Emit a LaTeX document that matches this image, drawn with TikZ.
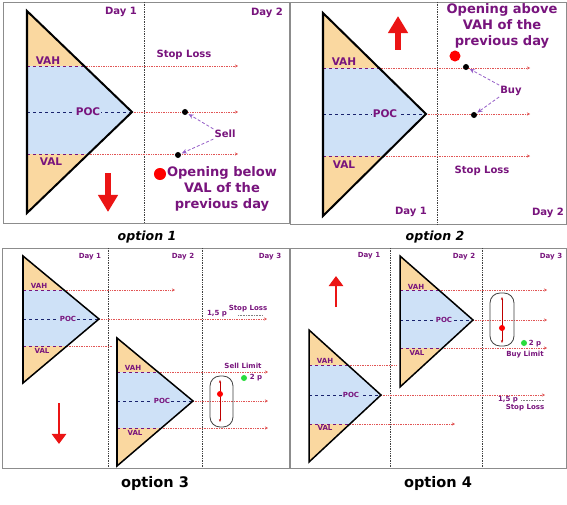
\documentclass[tikz,border=0pt]{standalone}
\usepackage{fontspec}
\setmainfont{DejaVu Sans}
\usepackage{xcolor}
\usetikzlibrary{arrows.meta,positioning}

\definecolor{vapurple}{RGB}{120,20,125}
\definecolor{tailfill}{RGB}{250,216,160}
\definecolor{corefill}{RGB}{206,225,247}
\definecolor{levelred}{RGB}{225,85,85}
\definecolor{pocblue}{RGB}{25,35,110}
\definecolor{trendred}{RGB}{235,20,20}
\definecolor{hintviolet}{RGB}{150,95,200}
\definecolor{limitgreen}{RGB}{40,220,60}

\begin{document}
\begin{tikzpicture}[x=0.035cm, y=-0.035cm,
  >=Stealth,
  panel/.style={draw=black!45, line width=0.8pt},
  daysep/.style={draw=black!75, densely dotted, line width=0.7pt},
  profile/.style={draw=black, line width=2pt, line join=miter},
  smallprofile/.style={profile, line width=1.5pt},
  tail/.style={fill=tailfill},
  core/.style={fill=corefill},
  vaedge/.style={draw=vapurple, dashed, line width=0.8pt},
  pocline/.style={draw=pocblue, dashed, line width=0.9pt},
  levelline/.style={draw=levelred, densely dotted, line width=0.7pt,
    -{Stealth[length=3pt,width=3pt]}},
  stub/.style={draw=levelred, densely dotted, line width=0.7pt},
  lbl/.style={font=\bfseries\fontsize{10.5}{12}\selectfont, text=vapurple, inner sep=1pt},
  smalllbl/.style={lbl, font=\bfseries\fontsize{7}{8}\selectfont},
  daylbl/.style={lbl, font=\bfseries\fontsize{10}{12}\selectfont},
  note/.style={font=\bfseries\fontsize{13}{16}\selectfont, text=vapurple, align=center},
  optcaption/.style={font=\bfseries\itshape\fontsize{12.5}{14}\selectfont},
  optcaptionup/.style={font=\bfseries\fontsize{14.5}{16}\selectfont},
  hitdot/.style={circle, fill=black, inner sep=0pt, minimum size=6pt},
  opendot/.style={circle, fill=red, inner sep=0pt, minimum size=12pt},
  reddot/.style={circle, fill=red, inner sep=0pt, minimum size=6pt},
  greendot/.style={circle, fill=limitgreen, inner sep=0pt, minimum size=6pt},
  pointer/.style={draw=hintviolet, densely dashed, line width=0.8pt,
    -{Stealth[length=5pt,width=4.5pt]}, shorten >=1pt},
  trend/.style={draw=trendred, line width=5pt, -{Triangle[length=17pt,width=19pt]}},
  smalltrend/.style={draw=trendred, line width=2.5pt, -{Triangle[length=10pt,width=14pt]}},
  rangebox/.style={draw=black!75, rounded corners=10pt, line width=0.8pt},
  rangeline/.style={draw=red!75!black, line width=0.8pt,
    {Stealth[length=3pt]}-{Stealth[length=3pt]}},
  pipline/.style={draw=black!50, densely dotted, line width=0.6pt},
]
\fill[white] (0,0) rectangle (567,505);
\useasboundingbox (0,0) rectangle (567,505);

% ========= Option 1: opening below VAL =========
\draw[panel] (3,2) rectangle (289,223);
\draw[daysep] (144,2) -- (144,223);
\begin{scope}
  \clip (27,11) -- (132,112) -- (27,213) -- cycle;
  \fill[tail] (27,11) rectangle (132,213);
  \fill[core] (27,66) rectangle (132,154);
\end{scope}
\draw[vaedge] (27,66) -- (84,66);
\draw[vaedge] (27,154) -- (88,154);
\draw[pocline] (27,112) -- (132,112);
\draw[levelline] (84,66) -- (238,66);
\draw[levelline] (132,112) -- (238,112);
\draw[levelline] (88,154) -- (238,154);
\draw[profile] (27,11) -- (132,112) -- (27,213) -- cycle;
\node[lbl] at (48,61) (p1vah) {VAH};
\node[lbl, fill=corefill] at (88,112) (p1poc) {POC};
\node[lbl] at (51,162) (p1val) {VAL};
\node[daylbl] at (121,12) (p1day1) {Day 1};
\node[daylbl] at (267,13) (p1day2) {Day 2};
\node[daylbl] at (184,55) (p1stop) {Stop Loss};
\node[hitdot] at (185,112) (p1sell1) {};
\node[hitdot] at (178,155) (p1sell2) {};
\node[daylbl] at (225,134) (p1sell) {Sell};
\draw[pointer] (p1sell.north west) -- (p1sell1);
\draw[pointer] (p1sell.south west) -- (p1sell2);
\node[opendot] at (160,174) (p1open) {};
\node[note] at (222,189) (p1note) {Opening below\\VAL of the\\previous day};
\draw[trend] (108,173) -- (108,212);
\node[optcaption] at (147,237) (opt1) {option 1};

% ========= Option 2: opening above VAH =========
\draw[panel] (290,2) rectangle (566,224);
\draw[daysep] (437,2) -- (437,224);
\begin{scope}
  \clip (323,13) -- (426,114) -- (323,216) -- cycle;
  \fill[tail] (323,13) rectangle (426,216);
  \fill[core] (323,68) rectangle (426,156);
\end{scope}
\draw[vaedge] (323,68) -- (379,68);
\draw[vaedge] (323,156) -- (384,156);
\draw[pocline] (323,114) -- (426,114);
\draw[levelline] (379,68) -- (530,68);
\draw[levelline] (426,114) -- (530,114);
\draw[levelline] (384,156) -- (530,156);
\draw[profile] (323,13) -- (426,114) -- (323,216) -- cycle;
\node[lbl] at (344,62) (p2vah) {VAH};
\node[lbl, fill=corefill] at (385,114) (p2poc) {POC};
\node[lbl] at (344,165) (p2val) {VAL};
\node[daylbl] at (411,212) (p2day1) {Day 1};
\node[daylbl] at (548,213) (p2day2) {Day 2};
\node[daylbl] at (482,171) (p2stop) {Stop Loss};
\node[hitdot] at (466,67) (p2buy1) {};
\node[hitdot] at (474,115) (p2buy2) {};
\node[daylbl] at (511,91) (p2buy) {Buy};
\draw[pointer] (p2buy.north west) -- (p2buy1);
\draw[pointer] (p2buy.south west) -- (p2buy2);
\node[opendot, minimum size=11pt] at (455,56) (p2open) {};
\node[note] at (502,26) (p2note) {Opening above\\VAH of the\\previous day};
\draw[trend] (398,50) -- (398,16);
\node[optcaption] at (435,237) (opt2) {option 2};

% ========= Option 3: sell limit after a lower day =========
\draw[panel] (2,248) rectangle (290,468);
\draw[daysep] (108,248) -- (108,468);
\draw[daysep] (202,248) -- (202,468);
\node[smalllbl] at (90,257) (p3day1) {Day 1};
\node[smalllbl] at (183,257) (p3day2) {Day 2};
\node[smalllbl] at (270,257) (p3day3) {Day 3};
% day 1 profile
\begin{scope}
  \clip (23,256) -- (99,319) -- (23,383) -- cycle;
  \fill[tail] (23,256) rectangle (99,383);
  \fill[core] (23,290) rectangle (99,346);
\end{scope}
\draw[vaedge] (23,290) -- (64,290);
\draw[vaedge] (23,346) -- (67,346);
\draw[pocline] (23,319) -- (99,319);
\draw[levelline] (64,290) -- (175,290);
\draw[levelline] (99,319) -- (267,319);
\draw[stub] (67,346) -- (113,346);
\draw[smallprofile] (23,256) -- (99,319) -- (23,383) -- cycle;
\node[smalllbl] at (39,286) (p3avah) {VAH};
\node[smalllbl, fill=corefill] at (68,319) (p3apoc) {POC};
\node[smalllbl] at (42,351) (p3aval) {VAL};
% day 2 profile
\begin{scope}
  \clip (117,338) -- (193,401) -- (117,466) -- cycle;
  \fill[tail] (117,338) rectangle (193,466);
  \fill[core] (117,372) rectangle (193,428);
\end{scope}
\draw[vaedge] (117,372) -- (158,372);
\draw[vaedge] (117,428) -- (161,428);
\draw[pocline] (117,401) -- (193,401);
\draw[levelline] (158,372) -- (268,372);
\draw[levelline] (193,401) -- (268,401);
\draw[levelline] (161,428) -- (268,428);
\draw[smallprofile] (117,338) -- (193,401) -- (117,466) -- cycle;
\node[smalllbl] at (133,368) (p3bvah) {VAH};
\node[smalllbl, fill=corefill] at (162,401) (p3bpoc) {POC};
\node[smalllbl] at (135,433) (p3bval) {VAL};
% orders
\node[smalllbl] at (248,309) (p3stop) {Stop Loss};
\node[smalllbl] at (217,314) (p3pips) {1,5 p};
\draw[pipline] (238,315) -- (263,315);
\node[smalllbl] at (243,366) (p3limit) {Sell Limit};
\node[greendot] at (244,378) (p3green) {};
\node[smalllbl] at (256,378) (p3gap) {2 p};
\draw[rangebox] (210,376) rectangle (233,427);
\draw[rangeline] (220,380) -- (220,422);
\node[reddot] at (220,394) (p3entry) {};
\draw[smalltrend] (59,403) -- (59,444);
\node[optcaptionup] at (155,483) (opt3) {option 3};

% ========= Option 4: buy limit after a higher day =========
\draw[panel] (289,248) rectangle (566,468);
\draw[daysep] (390,248) -- (390,468);
\draw[daysep] (482,248) -- (482,468);
\node[smalllbl] at (369,256) (p4day1) {Day 1};
\node[smalllbl] at (464,257) (p4day2) {Day 2};
\node[smalllbl] at (551,257) (p4day3) {Day 3};
% day 1 profile
\begin{scope}
  \clip (309,330) -- (381,395) -- (309,462) -- cycle;
  \fill[tail] (309,330) rectangle (381,462);
  \fill[core] (309,365) rectangle (381,424);
\end{scope}
\draw[vaedge] (309,365) -- (348,365);
\draw[vaedge] (309,424) -- (350,424);
\draw[pocline] (309,395) -- (381,395);
\draw[stub] (348,365) -- (396,365);
\draw[levelline] (381,395) -- (545,395);
\draw[levelline] (350,424) -- (455,424);
\draw[smallprofile] (309,330) -- (381,395) -- (309,462) -- cycle;
\node[smalllbl] at (325,361) (p4avah) {VAH};
\node[smalllbl, fill=corefill] at (351,395) (p4apoc) {POC};
\node[smalllbl] at (325,428) (p4aval) {VAL};
% day 2 profile
\begin{scope}
  \clip (400,256) -- (473,320) -- (400,387) -- cycle;
  \fill[tail] (400,256) rectangle (473,387);
  \fill[core] (400,290) rectangle (473,348);
\end{scope}
\draw[vaedge] (400,290) -- (439,290);
\draw[vaedge] (400,348) -- (442,348);
\draw[pocline] (400,320) -- (473,320);
\draw[levelline] (439,290) -- (547,290);
\draw[levelline] (473,320) -- (547,320);
\draw[levelline] (442,348) -- (547,348);
\draw[smallprofile] (400,256) -- (473,320) -- (400,387) -- cycle;
\node[smalllbl] at (416,287) (p4bvah) {VAH};
\node[smalllbl, fill=corefill] at (444,320) (p4bpoc) {POC};
\node[smalllbl] at (417,353) (p4bval) {VAL};
% orders
\draw[rangebox] (490,293) rectangle (514,346);
\draw[rangeline] (502,297) -- (502,343);
\node[reddot] at (502,328) (p4entry) {};
\node[greendot] at (524,343) (p4green) {};
\node[smalllbl] at (535,344) (p4gap) {2 p};
\node[smalllbl] at (525,355) (p4limit) {Buy Limit};
\node[smalllbl] at (508,400) (p4pips) {1,5 p};
\draw[pipline] (521,400) -- (544,400);
\node[smalllbl] at (525,408) (p4stop) {Stop Loss};
\draw[smalltrend] (336,307) -- (336,276);
\node[optcaptionup] at (438,483) (opt4) {option 4};

\end{tikzpicture}
\end{document}
